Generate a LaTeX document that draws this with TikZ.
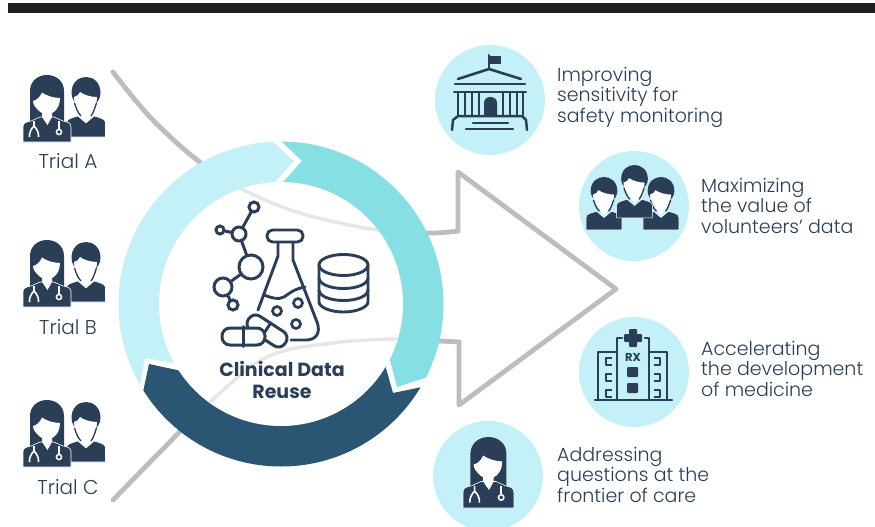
\documentclass[tikz,border=0pt]{standalone}
\usepackage{fontspec}
\setmainfont{Poppins}
\newfontfamily\lightfont{Poppins Light}
\usetikzlibrary{positioning}
\definecolor{ink}{HTML}{2A3F57}
\definecolor{ringlight}{HTML}{C4F0F7}
\definecolor{ringteal}{HTML}{86DFE2}
\definecolor{ringdark}{HTML}{2B5673}
\definecolor{guide}{HTML}{BDBDBD}
\definecolor{guidefaint}{HTML}{E6E6E6}
\definecolor{barblack}{HTML}{231F20}
\tikzset{
  femdoc/.pic={
    \fill[ink] (7,46) -- (7,16) .. controls (7,6) and (15,0) .. (24,0) .. controls (33,0) and (41,6) .. (41,16) -- (41,46) -- cycle;
    \fill[ink,draw=white,line width=.6] (0,67) -- (0,52) .. controls (0,48) and (3,47) .. (8,46) -- (17,42) -- (31,42) -- (40,46) .. controls (45,47) and (48,48) .. (48,52) -- (48,67) -- cycle;
    \fill[white] (10,26) .. controls (14,25) and (17,22) .. (19,17.5) .. controls (24,21) and (31,23) .. (37,23) .. controls (37,29) and (35,33) .. (32,36) -- (29,38) -- (29,42) -- (24.5,50) -- (19,42) -- (19,38) -- (16,36) .. controls (13,33) and (10,30) .. (10,26) -- cycle;
    \draw[white,line width=1.6] (11,46) -- (11,51) .. controls (8,54) and (6,58) .. (6.5,62) (11,51) .. controls (14,54) and (16,58) .. (15.5,62);
    \draw[white,line width=1.6] (36,46) -- (36,54);
    \draw[white,line width=1.5] (36,57) circle[radius=2.6];
  },
  malefig/.pic={
    \fill[ink] (-14.5,16) .. controls (-14.5,5) and (-7,0) .. (0,0) .. controls (7,0) and (14.5,5) .. (14.5,16) .. controls (14.5,21) and (12,24) .. (9,28) -- (-9,28) .. controls (-12,24) and (-14.5,21) .. (-14.5,16) -- cycle;
    \fill[ink,draw=white,line width=.6] (-19.5,60) -- (-19.5,46) .. controls (-19.5,42) and (-15,41) .. (-8,39) -- (0,46) -- (8,39) .. controls (15,41) and (19.5,42) .. (19.5,46) -- (19.5,60) -- cycle;
    \fill[white] (-12,20) .. controls (-9,19) and (-7,18) .. (-6,15) .. controls (-2,18) and (5,20) .. (11,20) .. controls (11,26) and (9,30) .. (7,33) -- (5,36) -- (0,44) -- (-5,36) -- (-7,33) .. controls (-10,30) and (-12,26) .. (-12,20) -- cycle;
    \draw[ink,line width=1.3] (-11.5,26) .. controls (-10,30) and (-9,35) .. (-5,39);
    \draw[ink,line width=1.3] (10.5,26) .. controls (9,30) and (8,35) .. (5,39);
  },
  docpair/.pic={
    \pic at (86,77) {malefig};
    \pic at (23,75) {femdoc};
  },
  icon/.style={draw=ink,line width=2.9,line cap=round,line join=round},
  molnode/.style={circle,draw=ink,line width=3,fill=white,inner sep=0pt,minimum size=#1},
  lab/.style={text=ink,font=\lightfont\fontsize{19}{20.5}\selectfont,align=left,anchor=north west,inner sep=0pt},
  triallab/.style={text=ink,font=\lightfont\fontsize{20}{20}\selectfont,inner sep=0pt},
  bubble/.style={circle,fill=ringlight,minimum size=110,inner sep=0pt},
  guideline/.style={draw=guide,line width=4.8,line cap=round,line join=round},
  faintline/.style={draw=guidefaint,line width=3.4},
}
\begin{document}
\begin{tikzpicture}[x=1pt,y=-1pt]
\useasboundingbox (0,0) rectangle (875,527);
\fill[white] (0,0) rectangle (875,527);
\fill[barblack] (8,3) rectangle (875,13);

% guide curves and open arrow
\coordinate (ringc) at (281,304);
\coordinate (arUp) at (458,231);
\coordinate (arLow) at (459,342);
\coordinate (arTop) at (458,172);
\coordinate (arTip) at (616,289);
\coordinate (arBot) at (459,405);
\def\upcurve{plot[smooth,tension=.6] coordinates {(113,72) (150,117) (197,160) (240,188) (300,213) (377,230) (430,233) (458,231)}}
\def\lowcurve{plot[smooth,tension=.6] coordinates {(113,500) (160,452) (210,402) (267,357) (333,343) (397,339) (440,341) (459,342)}}
\draw[guideline] \upcurve;
\draw[guideline] \lowcurve;
\draw[guideline] (arUp) -- (arTop) -- (arTip) -- (arBot) -- (arLow);

% ring
\begin{scope}
\clip (ringc) circle[radius=162.5];
\fill[ringlight] (294,161) -- (252,123) -- (100,100) -- (60,420) -- (137,402) -- (145,358) -- (201,368) -- (256,203) -- cycle;
\fill[ringteal] (302,161) -- (262,123) -- (500,100) -- (500,369) -- (453,369) -- (397,387) -- (383,333) -- (264,203) -- cycle;
\fill[ringdark] (393,393) -- (451,381) -- (500,520) -- (60,520) -- (137,420) -- (149,364) -- (205,376) -- (378,340) -- cycle;
\end{scope}
\fill[white] (ringc) circle[radius=122];
\begin{scope}
\clip (ringc) circle[radius=122];
\draw[faintline] \upcurve;
\draw[faintline] \lowcurve;
\end{scope}

% molecule
\node[molnode=10] (m1) at (254,207) {};
\node[molnode=8] (m2) at (220,230) {};
\node[molnode=14] (m3) at (239,234) {};
\node[molnode=24] (m4) at (251,267) {};
\node[molnode=18] (m5) at (223,287) {};
\node[molnode=10] (m6) at (233,305) {};
\draw[icon,line width=3] (m1) -- (m3) (m2) -- (m3) (m3) -- (m4) (m4) -- (m5) (m5) -- (m6);

% flask
\draw[icon,rounded corners=5.5] (267,230) rectangle (303,242);
\draw[icon] (278,242) -- (278,256) -- (258,310);
\draw[icon] (293,242) -- (293,260) -- (317,322) .. controls (321,333) and (316,340) .. (306,340) -- (291,340);
\draw[icon] (264,295) .. controls (272,298) and (278,300) .. (284,297) .. controls (290,293) and (294,289) .. (305,287);
\node[circle,draw=ink,line width=2.7,inner sep=0pt,minimum size=9] (b1) at (277,311) {};
\node[circle,draw=ink,line width=2.7,inner sep=0pt,minimum size=9] (b2) at (298,303) {};
\node[circle,draw=ink,line width=2.7,inner sep=0pt,minimum size=9] (b3) at (296,324) {};

% pills
\node[draw=ink,fill=white,line width=3,rounded corners=8,minimum width=44,minimum height=17,inner sep=0pt,rotate=-33] (pillB) at (267,331) {};
\draw[icon,line width=3] (270,324) -- (261,338);
\node[draw=ink,fill=white,line width=3,rounded corners=8,minimum width=43,minimum height=17,inner sep=0pt] (pillA) at (243.5,336.5) {};
\draw[icon,line width=3] (pillA.north) -- (pillA.south);

% database
\draw[icon,fill=white] (319,265) -- (319,302) .. controls (319,307) and (330,312) .. (343.5,312) .. controls (357,312) and (368,307) .. (368,302) -- (368,265);
\draw[icon] (343.5,265) ellipse[x radius=24.5,y radius=10.5];
\draw[icon] (319,278) .. controls (319,284) and (330,288.5) .. (343.5,288.5) .. controls (357,288.5) and (368,284) .. (368,278);
\draw[icon] (319,290) .. controls (319,296) and (330,300.5) .. (343.5,300.5) .. controls (357,300.5) and (368,296) .. (368,290);

\node[font=\fontsize{19}{22}\selectfont\bfseries,text=ink,align=center,inner sep=0pt] (hub) at (282,380) {Clinical Data\\Reuse};

% trial icons and labels
\pic at (0,0) {docpair};
\pic at (0,165) {docpair};
\pic at (0,325) {docpair};
\node[triallab] (ta) at (68,161) {Trial A};
\node[triallab] (tb) at (68,327) {Trial B};
\node[triallab] (tc) at (68,487) {Trial C};

% bubbles
\node[bubble] (c1) at (490,100) {};
\node[bubble] (c2) at (634,206) {};
\node[bubble] (c3) at (634,372) {};
\node[bubble] (c4) at (488,476) {};

% building
\draw[icon,line width=2] (489,68) -- (489,55);
\fill[ink] (489,56.5) rectangle (501,64);
\draw[icon,line width=2.6] (458,79) -- (489,69) -- (521,79);
\draw[icon,line width=2.4] (455,84) -- (525,84);
\draw[icon,line width=2.4] (454,92) -- (526,92);
\foreach \cx in {458,465,472,479,503,510,517,523} {\draw[icon,line width=2.2] (\cx,93) -- (\cx,115);}
\fill[ink] (484,116) -- (484,103) .. controls (484,99) and (487,97) .. (490.5,97) .. controls (494,97) and (497,99) .. (497,103) -- (497,116) -- cycle;
\draw[icon,line width=2.5] (452,130) -- (453,120) -- (458,116) -- (522,116) -- (526,120) -- (527,130);
\draw[icon,line width=2.4] (473,123) -- (508,123);
\draw[icon,line width=2.4] (466,129) -- (513,129);

% group
\pic[xscale=.92,yscale=.88] at (604,177) {malefig};
\pic[xscale=.92,yscale=.88] at (661,177) {malefig};
\pic[xscale=.92,yscale=.88] at (634.5,165) {malefig};
\fill[ringlight] (625,218.5) rectangle (643,232);

% hospital
\draw[icon,line width=2.5] (595,400) -- (672,400);
\draw[icon,line width=2.5] (617,400) -- (617,338) -- (622,338);
\draw[icon,line width=2.5] (649,400) -- (649,338) -- (645,338);
\draw[icon,line width=2.5] (598,400) -- (598,352) -- (617,352);
\draw[icon,line width=2.5] (667,400) -- (667,352) -- (649,352);
\fill[ink,rounded corners=1] (629,329) rectangle (637,347);
\fill[ink,rounded corners=1] (624,334) rectangle (642,342);
\node[text=ink,font=\fontsize{11.5}{12}\selectfont\bfseries,inner sep=0pt] (rx) at (633,357) {RX};
\fill[ink,rounded corners=1] (627,367) rectangle (638,377);
\fill[ink,rounded corners=1] (627,383) rectangle (638,393);
\foreach \by in {358,374,390} {
  \draw[icon,line width=2.4,line cap=butt] (612,\by) -- (606,\by) -- (606,\by+7) -- (612,\by+7);
  \draw[icon,line width=2.4,line cap=butt] (654,\by) -- (660,\by) -- (660,\by+7) -- (654,\by+7);
}

% single doctor
\pic[scale=1.06] at (463,437) {femdoc};

% labels
\node[lab] (l1) at (557,67) {Improving\\sensitivity for\\safety monitoring};
\node[lab] (l2) at (701,178) {Maximizing\\the value of\\volunteers’ data};
\node[lab] (l3) at (701,341) {Accelerating\\the development\\of medicine};
\node[lab] (l4) at (557,447) {Addressing\\questions at the\\frontier of care};
\end{tikzpicture}
\end{document}
